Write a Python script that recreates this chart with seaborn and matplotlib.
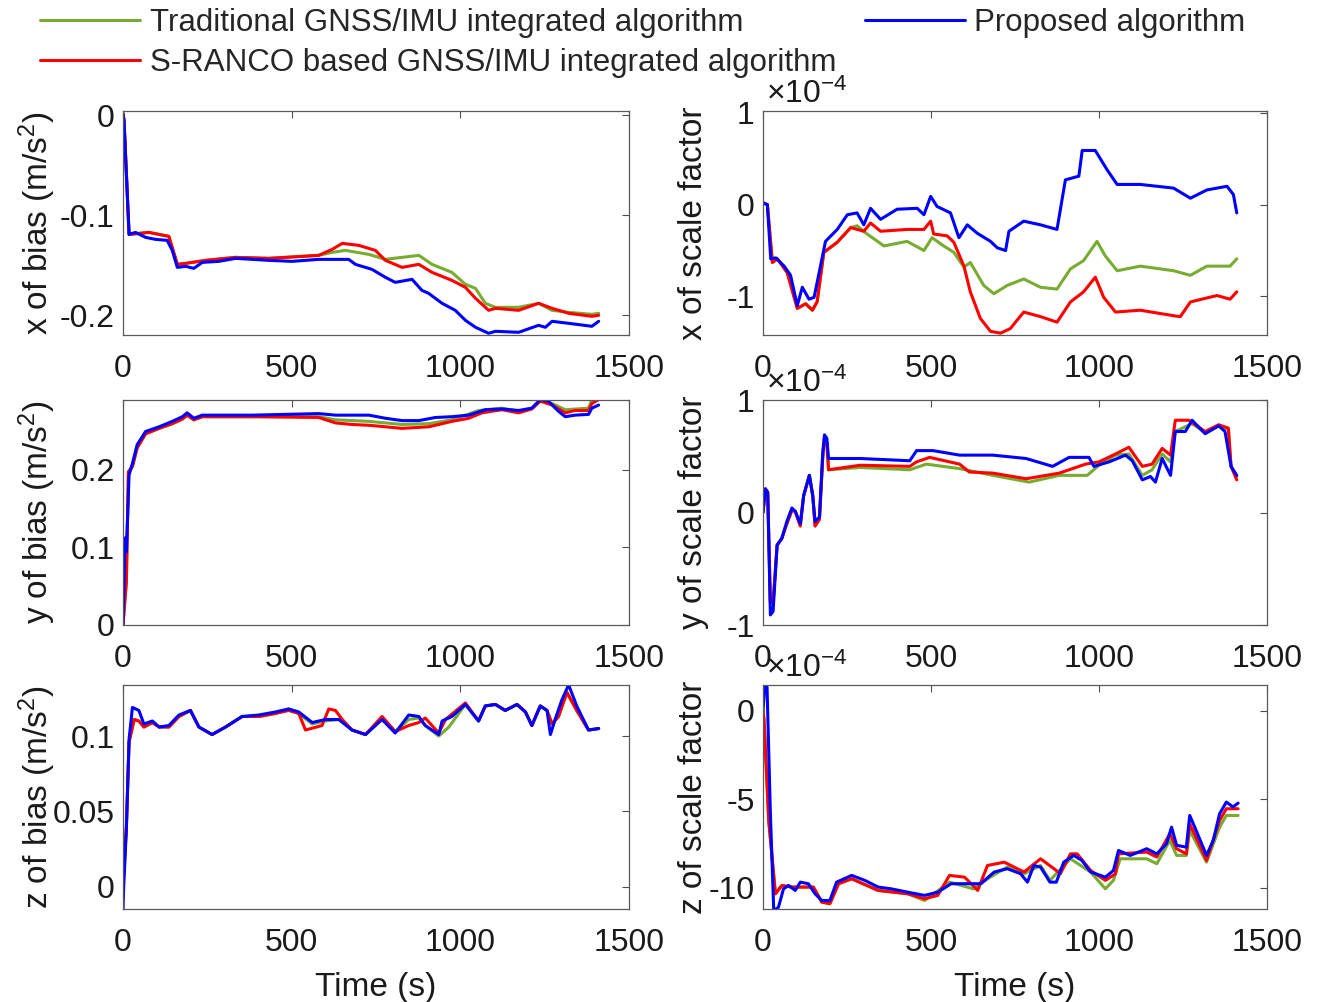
import numpy as np
import pandas as pd
import matplotlib
matplotlib.use("Agg")
import matplotlib.pyplot as plt
import seaborn as sns
from matplotlib.ticker import FuncFormatter

# ---------------- data (time [s], value) ----------------
# x of bias (m/s^2)
xbias_trad = [(0, 0.002), (3, -0.005), (18, -0.119), (77, -0.117), (136, -0.121), (161, -0.149), (186, -0.148),
              (245, -0.145), (334, -0.142), (432, -0.143), (531, -0.141), (580, -0.140), (620, -0.137), (659, -0.135),
              (729, -0.139), (778, -0.144), (827, -0.142), (877, -0.140), (916, -0.149), (975, -0.157), (1015, -0.169),
              (1045, -0.173), (1074, -0.188), (1104, -0.192), (1173, -0.192), (1232, -0.188), (1272, -0.195),
              (1321, -0.197), (1390, -0.199), (1410, -0.198)]
xbias_sranco = [(0, 0.002), (3, -0.005), (18, -0.119), (77, -0.117), (136, -0.121), (161, -0.149), (186, -0.148),
                (245, -0.145), (334, -0.142), (432, -0.143), (531, -0.141), (580, -0.140), (620, -0.134), (650, -0.128),
                (699, -0.130), (748, -0.135), (778, -0.145), (827, -0.152), (877, -0.149), (916, -0.157), (975, -0.165),
                (1015, -0.172), (1045, -0.183), (1084, -0.195), (1104, -0.193), (1173, -0.195), (1232, -0.188),
                (1272, -0.193), (1321, -0.198), (1390, -0.201), (1410, -0.200)]
xbias_prop = [(0, 0.002), (3, -0.005), (18, -0.119), (37, -0.117), (67, -0.122), (97, -0.124), (131, -0.125),
              (146, -0.135), (161, -0.152), (186, -0.151), (210, -0.153), (235, -0.147), (284, -0.146), (334, -0.143),
              (383, -0.144), (432, -0.145), (501, -0.146), (580, -0.144), (669, -0.144), (689, -0.149), (738, -0.154),
              (778, -0.162), (807, -0.167), (857, -0.164), (886, -0.175), (906, -0.178), (946, -0.188), (985, -0.195),
              (1015, -0.205), (1045, -0.212), (1084, -0.218), (1104, -0.216), (1173, -0.217), (1232, -0.210),
              (1252, -0.212), (1272, -0.206), (1321, -0.208), (1390, -0.211), (1410, -0.206)]

# x of scale factor (x 1e-4)
xscale_trad = [(0, 0.02), (13, 0.0), (28, -0.63), (43, -0.59), (72, -0.74), (102, -1.13), (127, -1.08), (147, -1.15),
               (161, -1.06), (181, -0.52), (221, -0.41), (261, -0.25), (280, -0.23), (310, -0.32), (360, -0.45),
               (429, -0.40), (479, -0.50), (503, -0.36), (538, -0.45), (568, -0.52), (598, -0.68), (617, -0.63),
               (657, -0.88), (687, -0.97), (727, -0.88), (776, -0.81), (826, -0.90), (875, -0.92), (915, -0.70),
               (954, -0.61), (994, -0.40), (1019, -0.56), (1054, -0.72), (1123, -0.67), (1222, -0.72), (1272, -0.77),
               (1321, -0.67), (1390, -0.67), (1410, -0.59)]
xscale_sranco = [(0, 0.02), (13, 0.0), (28, -0.63), (43, -0.59), (72, -0.74), (102, -1.13), (127, -1.08), (147, -1.15),
                 (161, -1.06), (181, -0.52), (221, -0.41), (261, -0.25), (300, -0.29), (320, -0.20), (350, -0.29),
                 (429, -0.27), (479, -0.27), (499, -0.18), (508, -0.32), (548, -0.34), (568, -0.41), (598, -0.67),
                 (617, -0.95), (647, -1.24), (677, -1.38), (707, -1.40), (736, -1.35), (776, -1.17), (826, -1.22),
                 (875, -1.28), (915, -1.06), (954, -0.95), (989, -0.79), (1014, -1.01), (1049, -1.17), (1123, -1.15),
                 (1222, -1.21), (1242, -1.22), (1272, -1.06), (1351, -0.99), (1390, -1.03), (1410, -0.95)]
xscale_prop = [(0, 0.02), (13, 0.0), (23, -0.59), (38, -0.58), (63, -0.67), (82, -0.77), (102, -1.10), (117, -0.90),
               (137, -1.03), (152, -1.01), (171, -0.67), (186, -0.40), (221, -0.27), (251, -0.11), (280, -0.09),
               (300, -0.22), (320, -0.04), (350, -0.16), (399, -0.05), (459, -0.04), (479, -0.11), (499, 0.09),
               (518, -0.02), (558, -0.09), (583, -0.36), (608, -0.22), (637, -0.31), (677, -0.40), (697, -0.47),
               (722, -0.50), (732, -0.29), (776, -0.18), (826, -0.22), (875, -0.27), (900, 0.27), (940, 0.31),
               (950, 0.59), (989, 0.59), (1024, 0.38), (1054, 0.22), (1123, 0.22), (1222, 0.18), (1272, 0.07),
               (1321, 0.16), (1381, 0.20), (1400, 0.11), (1410, -0.09)]

# y of bias (m/s^2)
ybias_trad = [(0, 0.0), (10, 0.056), (16, 0.197), (28, 0.204), (42, 0.228), (67, 0.246), (107, 0.253), (146, 0.259),
              (176, 0.265), (190, 0.270), (210, 0.264), (235, 0.268), (400, 0.268), (580, 0.268), (630, 0.264),
              (729, 0.262), (827, 0.258), (906, 0.259), (975, 0.264), (1054, 0.276), (1123, 0.279), (1173, 0.275),
              (1212, 0.279), (1237, 0.289), (1272, 0.285), (1311, 0.277), (1380, 0.279), (1390, 0.290), (1410, 0.291)]
ybias_sranco = [(0, 0.0), (10, 0.056), (16, 0.197), (28, 0.204), (42, 0.228), (67, 0.246), (107, 0.253), (146, 0.259),
                (176, 0.265), (190, 0.270), (210, 0.264), (235, 0.268), (400, 0.268), (580, 0.267), (630, 0.260),
                (679, 0.258), (729, 0.257), (827, 0.253), (906, 0.255), (936, 0.258), (975, 0.262), (1025, 0.266),
                (1064, 0.273), (1123, 0.277), (1173, 0.273), (1212, 0.278), (1237, 0.288), (1272, 0.283),
                (1311, 0.273), (1340, 0.276), (1380, 0.276), (1390, 0.285), (1410, 0.290)]
ybias_prop = [(0, 0.0), (6, 0.112), (10, 0.094), (18, 0.193), (28, 0.208), (42, 0.232), (67, 0.249), (107, 0.255),
              (146, 0.262), (176, 0.268), (190, 0.273), (210, 0.266), (235, 0.270), (383, 0.270), (580, 0.272),
              (630, 0.270), (729, 0.270), (778, 0.266), (827, 0.263), (877, 0.263), (926, 0.267), (975, 0.268),
              (1025, 0.270), (1074, 0.277), (1123, 0.278), (1173, 0.276), (1212, 0.279), (1237, 0.290),
              (1261, 0.288), (1291, 0.275), (1311, 0.268), (1340, 0.270), (1380, 0.271), (1390, 0.279), (1410, 0.283)]

# y of scale factor (x 1e-4)
yscale_trad = [(0, 0.0), (7, 0.21), (14, 0.18), (22, -0.80), (30, -0.80), (42, -0.29), (56, -0.23), (71, -0.10),
               (86, 0.02), (96, 0.01), (111, -0.12), (121, 0.15), (138, 0.33), (148, 0.15), (155, -0.12), (168, -0.06),
               (178, 0.50), (183, 0.66), (190, 0.62), (195, 0.38), (289, 0.40), (437, 0.38), (486, 0.43), (585, 0.39),
               (684, 0.33), (792, 0.27), (882, 0.33), (965, 0.33), (1000, 0.42), (1049, 0.51), (1089, 0.52),
               (1129, 0.33), (1158, 0.38), (1188, 0.52), (1213, 0.45), (1227, 0.72), (1277, 0.79), (1316, 0.71),
               (1356, 0.77), (1385, 0.74), (1393, 0.41), (1410, 0.32)]
yscale_sranco = [(0, 0.0), (7, 0.21), (14, 0.18), (22, -0.80), (30, -0.80), (42, -0.29), (56, -0.23), (71, -0.10),
                 (86, 0.02), (96, 0.01), (111, -0.12), (121, 0.15), (138, 0.33), (148, 0.15), (155, -0.12),
                 (168, -0.06), (178, 0.50), (183, 0.66), (190, 0.62), (195, 0.38), (289, 0.42), (437, 0.41),
                 (457, 0.45), (496, 0.49), (585, 0.43), (614, 0.36), (684, 0.35), (783, 0.30), (882, 0.35),
                 (960, 0.43), (1000, 0.45), (1049, 0.52), (1089, 0.58), (1129, 0.41), (1158, 0.43), (1188, 0.57),
                 (1213, 0.51), (1227, 0.82), (1267, 0.82), (1316, 0.72), (1356, 0.78), (1385, 0.75), (1393, 0.41),
                 (1410, 0.29)]
yscale_prop = [(0, 0.0), (7, 0.21), (14, 0.18), (22, -0.91), (30, -0.88), (42, -0.29), (56, -0.23), (71, -0.08),
               (86, 0.04), (96, 0.01), (111, -0.10), (121, 0.15), (138, 0.33), (148, 0.15), (155, -0.08), (168, -0.04),
               (178, 0.54), (183, 0.69), (190, 0.66), (195, 0.48), (289, 0.48), (437, 0.46), (457, 0.55), (506, 0.55),
               (585, 0.51), (684, 0.51), (783, 0.48), (862, 0.41), (911, 0.49), (970, 0.49), (985, 0.41),
               (1030, 0.45), (1079, 0.51), (1099, 0.46), (1129, 0.29), (1153, 0.32), (1168, 0.27), (1188, 0.48),
               (1213, 0.33), (1227, 0.72), (1257, 0.72), (1277, 0.82), (1316, 0.70), (1356, 0.77), (1375, 0.72),
               (1393, 0.41), (1410, 0.33)]

# z of bias (m/s^2)
zbias_trad = [(0, 0.0), (10, 0.040), (18, 0.096), (33, 0.111), (47, 0.110), (62, 0.106), (87, 0.109), (107, 0.106),
              (136, 0.106), (166, 0.113), (200, 0.117), (225, 0.106), (264, 0.101), (304, 0.106), (353, 0.113),
              (403, 0.113), (452, 0.115), (491, 0.118), (521, 0.115), (561, 0.108), (600, 0.110), (640, 0.111),
              (679, 0.104), (719, 0.101), (768, 0.112), (807, 0.103), (847, 0.111), (877, 0.112), (896, 0.107),
              (936, 0.100), (966, 0.106), (1015, 0.121), (1054, 0.110), (1074, 0.120), (1104, 0.121), (1133, 0.117),
              (1168, 0.121), (1193, 0.116), (1212, 0.107), (1237, 0.120), (1257, 0.117), (1272, 0.108),
              (1291, 0.113), (1316, 0.129), (1345, 0.117), (1380, 0.104), (1410, 0.105)]
zbias_sranco = [(0, 0.0), (10, 0.040), (18, 0.096), (33, 0.111), (47, 0.110), (62, 0.106), (87, 0.109), (107, 0.106),
                (136, 0.106), (166, 0.113), (200, 0.117), (225, 0.106), (264, 0.101), (304, 0.106), (353, 0.113),
                (403, 0.113), (452, 0.115), (491, 0.117), (521, 0.115), (541, 0.104), (590, 0.107), (610, 0.118),
                (630, 0.117), (650, 0.111), (679, 0.104), (719, 0.101), (768, 0.113), (807, 0.103), (847, 0.107),
                (877, 0.109), (896, 0.112), (936, 0.102), (956, 0.111), (1015, 0.122), (1054, 0.110), (1074, 0.120),
                (1104, 0.121), (1133, 0.117), (1168, 0.121), (1193, 0.116), (1212, 0.107), (1237, 0.120),
                (1257, 0.117), (1272, 0.108), (1291, 0.113), (1316, 0.129), (1345, 0.117), (1380, 0.104),
                (1410, 0.105)]
zbias_prop = [(0, -0.0156), (2, 0.0), (10, 0.038), (18, 0.098), (28, 0.119), (47, 0.117), (62, 0.108), (87, 0.110),
              (107, 0.106), (136, 0.107), (166, 0.114), (200, 0.117), (225, 0.106), (264, 0.101), (304, 0.106),
              (353, 0.113), (403, 0.114), (452, 0.116), (491, 0.118), (521, 0.116), (561, 0.109), (600, 0.111),
              (640, 0.111), (679, 0.104), (719, 0.101), (768, 0.111), (807, 0.102), (847, 0.114), (877, 0.113),
              (896, 0.107), (936, 0.101), (946, 0.110), (975, 0.113), (1015, 0.121), (1054, 0.110), (1074, 0.120),
              (1104, 0.121), (1133, 0.117), (1168, 0.121), (1193, 0.116), (1212, 0.107), (1237, 0.120),
              (1257, 0.117), (1267, 0.101), (1281, 0.111), (1301, 0.124), (1321, 0.134), (1345, 0.120),
              (1380, 0.104), (1410, 0.105)]

# z of scale factor (x 1e-4)
zscale_trad = [(0, 0.0), (3, -0.5), (17, -6.2), (37, -10.34), (56, -9.87), (86, -9.96), (115, -9.96), (150, -9.96),
               (175, -10.81), (199, -10.90), (225, -9.77), (264, -9.49), (343, -10.15), (431, -10.34), (481, -10.72),
               (555, -9.68), (626, -10.06), (676, -9.40), (727, -8.83), (777, -9.21), (826, -8.74), (854, -9.58),
               (915, -8.36), (975, -9.11), (1019, -10.06), (1043, -9.58), (1063, -8.36), (1142, -8.36),
               (1172, -8.64), (1211, -7.32), (1231, -8.17), (1260, -8.17), (1270, -6.75), (1320, -8.55),
               (1359, -6.57), (1379, -5.91), (1414, -5.91)]
zscale_sranco = [(0, 0.0), (3, -0.5), (17, -6.2), (37, -10.34), (56, -9.87), (86, -9.96), (115, -9.96), (150, -9.96),
                 (175, -10.81), (199, -10.90), (225, -9.77), (264, -9.49), (343, -10.15), (431, -10.34),
                 (481, -10.62), (520, -10.43), (555, -9.30), (600, -9.40), (639, -10.15), (668, -8.74), (718, -8.55),
                 (777, -9.11), (826, -8.36), (866, -8.92), (885, -9.21), (915, -8.08), (935, -8.08), (975, -9.02),
                 (1019, -9.58), (1049, -9.21), (1058, -8.08), (1142, -7.98), (1172, -8.26), (1211, -6.94),
                 (1231, -7.79), (1260, -8.08), (1270, -6.38), (1320, -8.45), (1359, -6.19), (1379, -5.53),
                 (1414, -5.53)]
zscale_prop = [(0, 0.0), (5, 1.45), (12, 1.36), (22, -5.8), (32, -11.3), (46, -11.1), (61, -10.06), (76, -9.87),
               (96, -10.15), (111, -9.68), (135, -9.77), (155, -10.34), (175, -10.72), (199, -10.72), (219, -9.68),
               (264, -9.30), (303, -9.58), (343, -9.96), (382, -10.06), (431, -10.25), (481, -10.43), (520, -10.25),
               (560, -9.77), (609, -9.77), (648, -9.77), (688, -9.11), (727, -8.92), (767, -9.21), (787, -9.68),
               (806, -8.74), (826, -8.83), (854, -9.68), (873, -9.68), (895, -8.55), (925, -8.17), (949, -8.45),
               (975, -9.11), (1019, -9.40), (1043, -9.02), (1058, -7.89), (1093, -8.17), (1142, -7.79),
               (1172, -8.08), (1201, -7.51), (1216, -6.57), (1231, -7.60), (1260, -7.70), (1270, -5.91),
               (1285, -6.57), (1320, -8.17), (1340, -7.32), (1359, -5.81), (1379, -5.15), (1399, -5.43),
               (1414, -5.21)]

labels = ["Traditional GNSS/IMU integrated algorithm",
          "S-RANCO based GNSS/IMU integrated algorithm",
          "Proposed algorithm"]
colors = ["#77AC30", "#FF0000", "#0000FF"]
xticks = [0, 500, 1000, 1500]
SCALE = 1e-4

# ---------------- style ----------------
sns.set_theme(style="white")
plt.rcParams.update({
    "font.family": ["Liberation Sans", "DejaVu Sans"],
    "axes.unicode_minus": False,
    "mathtext.fontset": "custom",
    "mathtext.rm": "Liberation Sans",
    "mathtext.it": "Liberation Sans:italic",
    "mathtext.bf": "Liberation Sans:bold",
})

fig = plt.figure(figsize=(13.17, 10.02), dpi=100)
W, H = 1317, 1002


def add_ax(x0, x1, y0, y1):
    return fig.add_axes([x0 / W, 1 - y1 / H, (x1 - x0) / W, (y1 - y0) / H])


panels = [
    dict(box=(123, 629, 111, 335), series=(xbias_trad, xbias_sranco, xbias_prop), scaled=False,
         ylim=(-0.2197, 0.0045), yticks=[-0.2, -0.1, 0], ylabel="x of bias (m/s$^2$)", xlabel=False),
    dict(box=(763, 1267, 111, 335), series=(xscale_trad, xscale_sranco, xscale_prop), scaled=True,
         ylim=(-1.42, 1.02), yticks=[-1, 0, 1], ylabel="x of scale factor", xlabel=False),
    dict(box=(123, 629, 400, 625), series=(ybias_trad, ybias_sranco, ybias_prop), scaled=False,
         ylim=(0, 0.2895), yticks=[0, 0.1, 0.2], ylabel="y of bias (m/s$^2$)", xlabel=False),
    dict(box=(763, 1267, 400, 625), series=(yscale_trad, yscale_sranco, yscale_prop), scaled=True,
         ylim=(-1, 1), yticks=[-1, 0, 1], ylabel="y of scale factor", xlabel=False),
    dict(box=(123, 629, 685, 909), series=(zbias_trad, zbias_sranco, zbias_prop), scaled=False,
         ylim=(-0.0148, 0.1339), yticks=[0, 0.05, 0.1], ylabel="z of bias (m/s$^2$)", xlabel=True),
    dict(box=(763, 1267, 685, 909), series=(zscale_trad, zscale_sranco, zscale_prop), scaled=True,
         ylim=(-11.2, 1.47), yticks=[-10, -5, 0], ylabel="z of scale factor", xlabel=True),
]

legend_handles = None
for p in panels:
    x0, x1, y0, y1 = p["box"]
    ax = add_ax(x0, x1, y0, y1)
    mult = SCALE if p["scaled"] else 1.0
    for data, c, lab in zip(p["series"], colors, labels):
        df = pd.DataFrame(data, columns=["t", "v"])
        df["v"] = df["v"] * mult
        sns.lineplot(data=df, x="t", y="v", ax=ax, color=c, linewidth=2.2,
                     estimator=None, sort=False, label=lab, legend=False)
    if legend_handles is None:
        legend_handles = ax.get_lines()[:3]
    ax.set_xlim(0, 1500)
    ax.set_xticks(xticks)
    ax.set_ylim(p["ylim"][0] * mult, p["ylim"][1] * mult)
    ax.set_yticks([v * mult for v in p["yticks"]])
    if p["scaled"]:
        ax.yaxis.set_major_formatter(FuncFormatter(lambda v, pos: f"{v / SCALE:g}"))
        ax.text(0.005, 1.005, r"$\times10^{-4}$", transform=ax.transAxes, ha="left", va="bottom",
                fontsize=23, color="#1a1a1a")
    else:
        ax.yaxis.set_major_formatter(FuncFormatter(lambda v, pos: f"{v:g}"))
    ax.tick_params(axis="both", which="major", direction="in", top=True, right=True,
                   length=5, width=0.8, color="0.3", labelsize=23, labelcolor="#1a1a1a")
    ax.tick_params(axis="x", pad=14)
    ax.tick_params(axis="y", pad=6)
    for s in ax.spines.values():
        s.set_color("0.35")
        s.set_linewidth(0.9)
    ax.set_ylabel(p["ylabel"], fontsize=24, color="#1a1a1a")
    width_px = x1 - x0
    right_edge = 58 if not p["scaled"] else 709
    ax.yaxis.set_label_coords((right_edge - x0) / width_px, 0.5)
    if p["xlabel"]:
        ax.set_xlabel("Time (s)", fontsize=24, color="#1a1a1a")
        ax.xaxis.set_label_coords(0.5, -(972 - y1) / (y1 - y0))
    else:
        ax.set_xlabel("")

fig.legend(legend_handles, labels, loc="upper left", bbox_to_anchor=(40 / W, 1 - 8 / H), ncol=2,
           frameon=False, fontsize=22.5, handlelength=3.2, handletextpad=0.32, columnspacing=0.9,
           labelspacing=0.32, borderpad=0.0, borderaxespad=0.0)

fig.savefig("out.png", dpi=100)
